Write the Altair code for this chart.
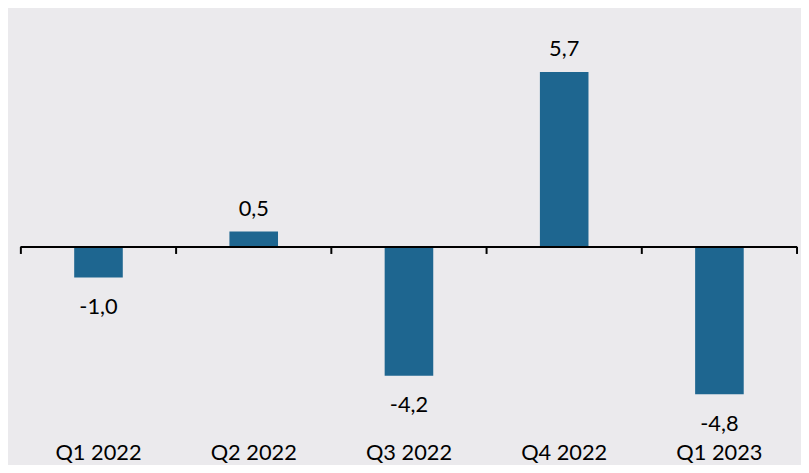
import altair as alt
import pandas as pd

quarters = ["Q1 2022", "Q2 2022", "Q3 2022", "Q4 2022", "Q1 2023"]
values = [-1.0, 0.5, -4.2, 5.7, -4.8]
labels = ["-1,0", "0,5", "-4,2", "5,7", "-4,8"]

df = pd.DataFrame({"q": quarters, "v": values, "lab": labels})

FONT = "Lato"
BAR = "#1e6690"
W, H = 784, 432
PI = 0.687
PO = PI / 2
STEP = W / len(quarters)
GAP = PO * STEP  # pixels from a bar's edge to its slot boundary

xscale = alt.Scale(domain=quarters, range=[0, W], paddingInner=PI, paddingOuter=PO,
                   round=False)
yscale = alt.Scale(domain=[-6.226, 7.71], nice=False, zero=False, round=False)

bars = alt.Chart(df).mark_bar(color=BAR).encode(
    x=alt.X("q:N", scale=xscale, sort=quarters,
            axis=alt.Axis(orient="bottom", title=None, domain=False, ticks=False,
                          labelAngle=0, labelFont=FONT, labelFontSize=22,
                          labelColor="#000000", labelPadding=5)),
    y=alt.Y("v:Q", scale=yscale, axis=None),
)

zero_line = alt.Chart(df).mark_rule(color="#000000", strokeWidth=2).encode(
    x=alt.value(0), x2=alt.value(W), y=alt.datum(0),
)

ticks_l = alt.Chart(df).mark_rule(color="#000000", strokeWidth=2, xOffset=-GAP).encode(
    x=alt.X("q:N", scale=xscale, sort=quarters, bandPosition=0),
    y=alt.datum(0), y2=alt.datum(-0.23),
)

ticks_r = alt.Chart(df).transform_filter(
    alt.datum.q == quarters[-1]
).mark_rule(color="#000000", strokeWidth=2, xOffset=GAP).encode(
    x=alt.X("q:N", scale=xscale, sort=quarters, bandPosition=1),
    y=alt.datum(0), y2=alt.datum(-0.23),
)

pos = alt.Chart(df).transform_filter("datum.v >= 0").mark_text(
    font=FONT, fontSize=22, baseline="alphabetic", dy=-16, color="#000000"
).encode(
    x=alt.X("q:N", scale=xscale, sort=quarters),
    y=alt.Y("v:Q", scale=yscale),
    text="lab:N",
)

neg = alt.Chart(df).transform_filter("datum.v < 0").mark_text(
    font=FONT, fontSize=22, baseline="top", dy=20, color="#000000"
).encode(
    x=alt.X("q:N", scale=xscale, sort=quarters),
    y=alt.Y("v:Q", scale=yscale),
    text="lab:N",
)

chart = alt.layer(bars, zero_line, ticks_l, ticks_r, pos, neg).properties(
    width=W, height=H, background="#ebeaed",
    padding={"left": 13, "top": 0, "right": 4, "bottom": 25},
    autosize=alt.AutoSizeParams(type="none"),
).configure_view(stroke=None)

chart.save("out.html", embed_options={"renderer": "svg", "actions": False})
